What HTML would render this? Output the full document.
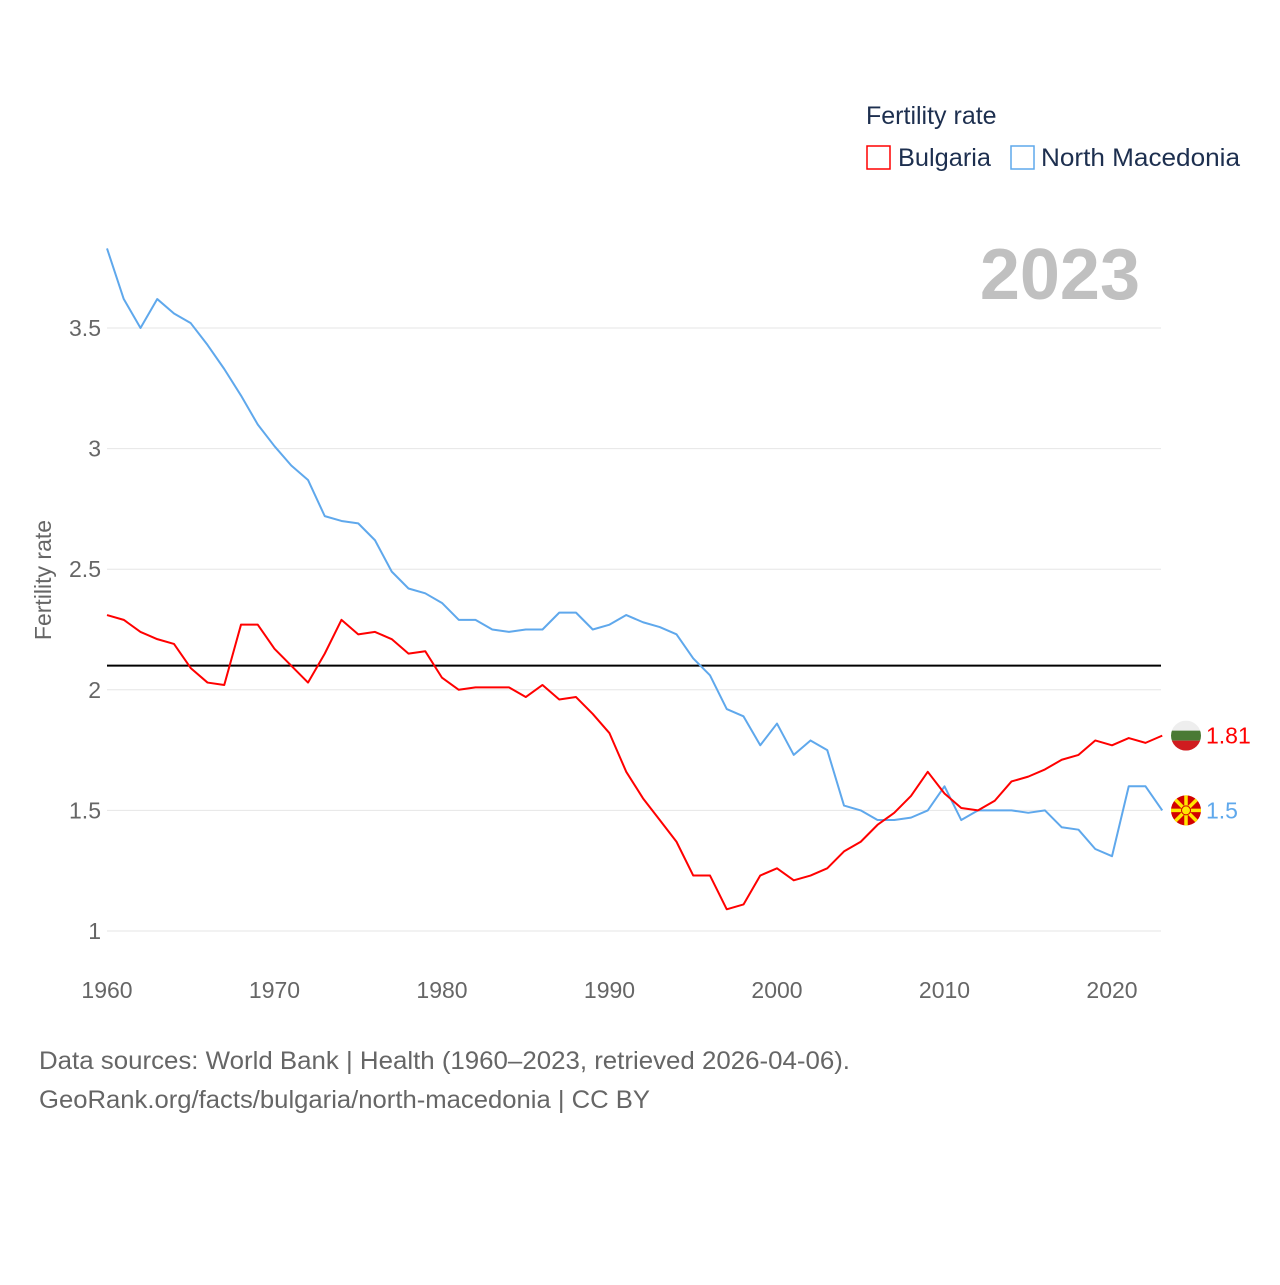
<!DOCTYPE html>
<html><head><meta charset="utf-8"><style>
body{margin:0;background:#fff;font-family:"Liberation Sans",sans-serif}
svg text{font-family:"Liberation Sans",sans-serif}
</style></head><body>
<svg id="chart" width="1280" height="1280" viewBox="0 0 1280 1280">
<g>
<text x="866" y="124" font-size="25" fill="#1d2f4f">Fertility rate</text>
<rect x="867" y="146" width="23" height="23" fill="none" stroke="#f00" stroke-width="1.5"/>
<text x="898" y="166" font-size="25" fill="#1d2f4f" textLength="93" lengthAdjust="spacingAndGlyphs">Bulgaria</text>
<rect x="1011" y="146" width="23" height="23" fill="none" stroke="#5fa8ec" stroke-width="1.5"/>
<text x="1041" y="166" font-size="25" fill="#1d2f4f" textLength="199" lengthAdjust="spacingAndGlyphs">North Macedonia</text>
</g>
<text x="1140" y="299" font-size="72" font-weight="bold" fill="#c0c0c0" text-anchor="end">2023</text>
<text transform="translate(51,580) rotate(-90)" font-size="23" fill="#666" text-anchor="middle">Fertility rate</text>
<g id="grid"></g><g id="marks"></g>
<text x="39" y="1069" font-size="25" fill="#666" textLength="811" lengthAdjust="spacingAndGlyphs">Data sources: World Bank | Health (1960–2023, retrieved 2026-04-06).</text>
<text x="39" y="1108" font-size="25" fill="#666" textLength="611" lengthAdjust="spacingAndGlyphs">GeoRank.org/facts/bulgaria/north-macedonia | CC BY</text>
</svg>
<script>
const startYear = 1960;
const bulgaria = [2.31,2.29,2.24,2.21,2.19,2.09,2.03,2.02,2.27,2.27,2.17,2.10,2.03,2.15,2.29,2.23,2.24,2.21,2.15,2.16,2.05,2.00,2.01,2.01,2.01,1.97,2.02,1.96,1.97,1.90,1.82,1.66,1.55,1.46,1.37,1.23,1.23,1.09,1.11,1.23,1.26,1.21,1.23,1.26,1.33,1.37,1.44,1.49,1.56,1.66,1.57,1.51,1.50,1.54,1.62,1.64,1.67,1.71,1.73,1.79,1.77,1.80,1.78,1.81];
const macedonia = [3.83,3.62,3.50,3.62,3.56,3.52,3.43,3.33,3.22,3.10,3.01,2.93,2.87,2.72,2.70,2.69,2.62,2.49,2.42,2.40,2.36,2.29,2.29,2.25,2.24,2.25,2.25,2.32,2.32,2.25,2.27,2.31,2.28,2.26,2.23,2.13,2.06,1.92,1.89,1.77,1.86,1.73,1.79,1.75,1.52,1.50,1.46,1.46,1.47,1.50,1.60,1.46,1.50,1.50,1.50,1.49,1.50,1.43,1.42,1.34,1.31,1.60,1.60,1.50];
const yTicks = [1,1.5,2,2.5,3,3.5];
const xTicks = [1960,1970,1980,1990,2000,2010,2020];
const replacement = 2.1;
const ns='http://www.w3.org/2000/svg';
const X = yr => 107 + (yr-1960)*16.75;
const Y = v => 931 - (v-1)*241.2;
const grid=document.getElementById('grid'), marks=document.getElementById('marks');
function mk(tag,attrs,parent){const e=document.createElementNS(ns,tag);for(const k in attrs)e.setAttribute(k,attrs[k]);parent.appendChild(e);return e;}
yTicks.forEach(t=>{
  const l=mk('line',{x1:107,x2:1161,y1:Y(t),y2:Y(t),stroke:'#e6e6e6','stroke-width':1},grid);
  
  
  const tx=mk('text',{x:101,y:Y(t)+8,'font-size':23,fill:'#666','text-anchor':'end'},grid);
  tx.textContent=String(t);
  
  
});
xTicks.forEach(t=>{
  const tx=mk('text',{x:X(t),y:998,'font-size':23,fill:'#666','text-anchor':'middle'},grid);
  tx.textContent=String(t);
  
  
});
const rl=mk('line',{x1:107,x2:1161,y1:Y(replacement),y2:Y(replacement),stroke:'#000','stroke-width':2},marks);


function series(data,color,name){
  const p=mk('polyline',{points:data.map((v,i)=>X(startYear+i)+','+Y(v)).join(' '),fill:'none',stroke:color,'stroke-width':2,'stroke-linejoin':'round'},marks);
  
  
}
series(macedonia,'#5fa8ec','north-macedonia');
series(bulgaria,'#f00','bulgaria');
const bLast=bulgaria[bulgaria.length-1], mLast=macedonia[macedonia.length-1];
const fx=1186;
const bg=mk('g',{},marks);


mk('clipPath',{id:'cb'},bg); mk('circle',{cx:fx,cy:Y(bLast),r:15},bg.lastChild);
const cy=Y(bLast);
mk('rect',{x:fx-15,y:cy-15,width:30,height:10,fill:'#eee','clip-path':'url(#cb)'},bg);
mk('rect',{x:fx-15,y:cy-5,width:30,height:10,fill:'#4a7a34','clip-path':'url(#cb)'},bg);
mk('rect',{x:fx-15,y:cy+5,width:30,height:10,fill:'#d01c1f','clip-path':'url(#cb)'},bg);
const bt=mk('text',{x:1206,y:cy+8,'font-size':23,fill:'#f00'},marks);
bt.textContent=String(bLast);


const my=Y(mLast);
const mg=mk('g',{},marks);


mk('circle',{cx:fx,cy:my,r:15,fill:'#d20000'},mg);
for(let a=0;a<8;a++){const ang=a*Math.PI/4;mk('line',{x1:fx,y1:my,x2:fx+15*Math.cos(ang),y2:my+15*Math.sin(ang),stroke:'#ffe600','stroke-width':3.5},mg);}
mk('circle',{cx:fx,cy:my,r:4.5,fill:'#ffe600',stroke:'#d20000','stroke-width':1},mg);
const mt=mk('text',{x:1206,y:my+8,'font-size':23,fill:'#5fa8ec'},marks);
mt.textContent=String(mLast);


</script>
</body></html>
